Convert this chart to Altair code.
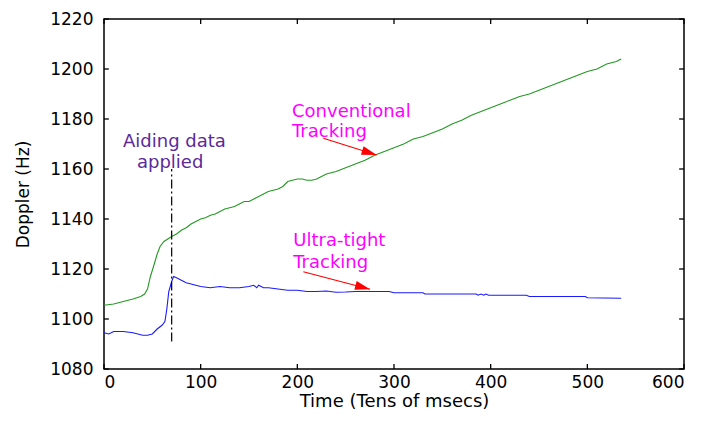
import altair as alt
import pandas as pd

# Conventional tracking (green)
conv_t = [0, 10, 20, 30, 38, 42, 45, 48, 52, 55, 58, 62, 66, 70, 75, 80, 85, 90, 95,
          100, 105, 110, 115, 120, 125, 130, 135, 140, 145, 150, 155, 160, 165, 170,
          175, 180, 185, 190, 195, 200, 205, 210, 215, 220, 225, 230, 240, 250, 260,
          270, 280, 290, 300, 310, 320, 330, 340, 350, 360, 370, 380, 390, 400, 410,
          420, 430, 440, 450, 460, 470, 480, 490, 500, 510, 520, 530, 535]
conv_hz = [1105.5, 1106, 1107, 1108, 1109, 1110, 1112, 1117, 1122, 1126, 1129, 1131,
           1132, 1133, 1134, 1135.5, 1136.5, 1138, 1139, 1140, 1140.5, 1141.5, 1142,
           1143, 1144, 1144.5, 1145, 1146, 1147, 1147, 1148, 1149, 1150, 1151, 1151.5,
           1152, 1153, 1155, 1155.5, 1156, 1156, 1155.5, 1155.5, 1156, 1157, 1158,
           1159, 1160.5, 1162, 1163.5, 1165.5, 1167, 1168.5, 1170, 1172, 1173, 1174.5,
           1176, 1178, 1179.5, 1181.5, 1183, 1184.5, 1186, 1187.5, 1189, 1190, 1191.5,
           1193, 1194.5, 1196, 1197.5, 1199, 1200, 1202, 1203, 1204]

# Ultra-tight tracking (blue)
ultra_t = [0, 5, 10, 20, 30, 40, 45, 50, 55, 60, 63, 65, 67, 70, 72, 75, 80, 85, 90,
           95, 100, 110, 120, 130, 140, 150, 155, 158, 160, 165, 170, 180, 190, 200,
           210, 220, 230, 240, 250, 260, 270, 280, 295, 300, 330, 332, 385, 387, 390,
           393, 395, 398, 437, 440, 498, 500, 535]
ultra_hz = [1094.5, 1094, 1095, 1095, 1094.5, 1093.5, 1093.5, 1094, 1096, 1097.5,
            1099, 1104, 1111, 1115, 1117, 1116.5, 1115.5, 1114.5, 1114, 1113.5, 1113,
            1112.5, 1113, 1112.5, 1112.5, 1113, 1113.5, 1112.5, 1113.5, 1112.5, 1112.5,
            1112, 1111.5, 1111.5, 1111, 1111, 1111.2, 1110.7, 1110.8, 1111, 1111, 1111,
            1111, 1110.5, 1110.5, 1110, 1110, 1109.5, 1110, 1109.5, 1110, 1109.5,
            1109.5, 1109, 1109, 1108.5, 1108.3]

x_ticks = [0, 100, 200, 300, 400, 500, 600]
y_ticks = [1080, 1100, 1120, 1140, 1160, 1180, 1200, 1220]

# Aiding marker
aid_t = [70, 70]
aid_hz = [1091, 1160]

# Annotation text lines
ann_text = ["Aiding data", "applied", "Conventional", "Tracking", "Ultra-tight", "Tracking"]
ann_t = [19.7, 34.1, 194.5, 194.5, 195.8, 195.8]
ann_hz = [1170.7, 1162.3, 1183, 1174.7, 1131.2, 1122.6]
ann_col = ["#5b2a9b", "#5b2a9b", "#ff00ff", "#ff00ff", "#ff00ff", "#ff00ff"]

# Arrows (start -> tip)
arr_id = ["conv", "conv", "ultra", "ultra"]
arr_t = [226.9, 282.0, 206.2, 275.2]
arr_hz = [1172.3, 1165.6, 1118.9, 1111.9]
head_t = [282.0, 275.2]
head_hz = [1165.6, 1111.9]
head_ang = [17.4, 14.6]

W, H = 580, 350
xs = alt.Scale(domain=[0, 600], nice=False)
ys = alt.Scale(domain=[1080, 1220], nice=False)

df = pd.concat([
    pd.DataFrame({"t": conv_t, "hz": conv_hz, "s": "Conventional"}),
    pd.DataFrame({"t": ultra_t, "hz": ultra_hz, "s": "Ultra-tight"}),
])

FONT = "DejaVu Sans"

lines = alt.Chart(df).mark_line(strokeWidth=1.1).encode(
    x=alt.X("t:Q", scale=xs,
            axis=alt.Axis(values=x_ticks, title="Time (Tens of msecs)", grid=False,
                          domain=False, ticks=False, labelPadding=5, titlePadding=2,
                          labelFontSize=17, titleFontSize=18, labelFont=FONT,
                          titleFont=FONT, labelColor="black", titleColor="black",
                          titleFontWeight="normal", format="d")),
    y=alt.Y("hz:Q", scale=ys,
            axis=alt.Axis(values=y_ticks, title="Doppler (Hz)", grid=False,
                          domain=False, ticks=False, labelPadding=11, titlePadding=17,
                          labelFontSize=17, titleFontSize=17, labelFont=FONT,
                          titleFont=FONT, labelColor="black", titleColor="black",
                          titleFontWeight="normal", format="d")),
    color=alt.Color("s:N", scale=alt.Scale(domain=["Conventional", "Ultra-tight"],
                                           range=["#229922", "#1a1aff"]), legend=None),
)

aid = alt.Chart(pd.DataFrame({"t": aid_t, "hz": aid_hz})).mark_line(
    color="black", strokeWidth=1.2, strokeDash=[9, 3, 2, 3]).encode(
    x=alt.X("t:Q", scale=xs), y=alt.Y("hz:Q", scale=ys))

arrows = alt.Chart(pd.DataFrame({"id": arr_id, "t": arr_t, "hz": arr_hz})).mark_line(
    color="red", strokeWidth=1.2).encode(
    x=alt.X("t:Q", scale=xs), y=alt.Y("hz:Q", scale=ys), detail="id:N")

heads = alt.Chart(pd.DataFrame({"t": head_t, "hz": head_hz, "a": head_ang})).mark_point(
    shape="M0,0L-1,-0.3L-1,0.3Z", filled=True, color="red", opacity=1, size=900,
    strokeWidth=0).encode(
    x=alt.X("t:Q", scale=xs), y=alt.Y("hz:Q", scale=ys),
    angle=alt.Angle("a:Q", scale=None))

texts = alt.Chart(pd.DataFrame({"t": ann_t, "hz": ann_hz, "txt": ann_text, "c": ann_col})).mark_text(
    align="left", baseline="middle", font=FONT, fontSize=18).encode(
    x=alt.X("t:Q", scale=xs), y=alt.Y("hz:Q", scale=ys), text="txt:N",
    color=alt.Color("c:N", scale=None))

# inward tick marks on all four sides (MATLAB box style)
xt = pd.DataFrame({"t": x_ticks, "lo": 1080, "lo2": 1082, "hi": 1220, "hi2": 1218})
yt = pd.DataFrame({"hz": y_ticks, "l": 0, "l2": 5, "r": 600, "r2": 595})
tick_bot = alt.Chart(xt).mark_rule(color="black", strokeWidth=1.3).encode(
    x=alt.X("t:Q", scale=xs), y=alt.Y("lo:Q", scale=ys), y2="lo2:Q")
tick_top = alt.Chart(xt).mark_rule(color="black", strokeWidth=1.3).encode(
    x=alt.X("t:Q", scale=xs), y=alt.Y("hi:Q", scale=ys), y2="hi2:Q")
tick_left = alt.Chart(yt).mark_rule(color="black", strokeWidth=1.3).encode(
    y=alt.Y("hz:Q", scale=ys), x=alt.X("l:Q", scale=xs), x2="l2:Q")
tick_right = alt.Chart(yt).mark_rule(color="black", strokeWidth=1.3).encode(
    y=alt.Y("hz:Q", scale=ys), x=alt.X("r:Q", scale=xs), x2="r2:Q")

chart = alt.layer(lines, aid, arrows, heads, texts, tick_bot, tick_top, tick_left,
                  tick_right).properties(
    width=W, height=H,
    autosize=alt.AutoSizeParams(type="none"),
    padding={"left": 96, "top": 11, "right": 25, "bottom": 42},
).configure(background="white").configure_view(stroke="#000000", strokeWidth=1.5)

chart.save("out.html", embed_options={"renderer": "svg", "actions": False})
